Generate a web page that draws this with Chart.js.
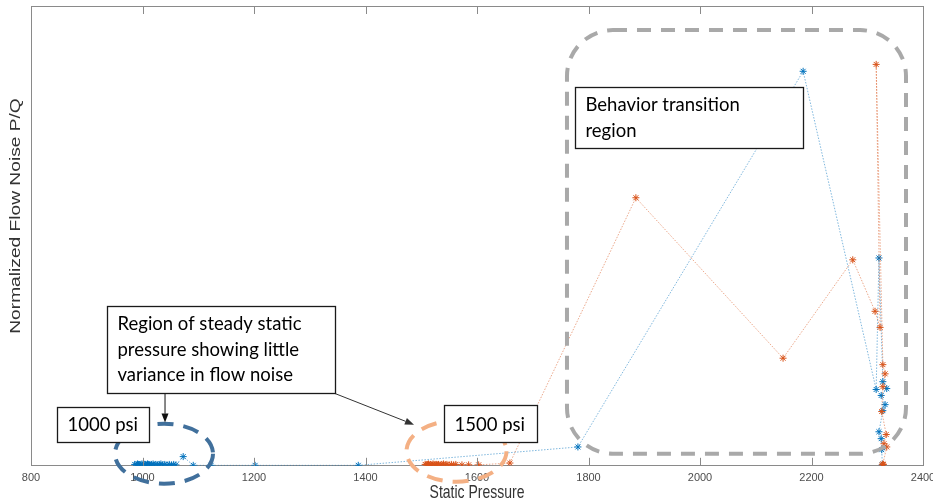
<!DOCTYPE html>
<html>
<head>
<meta charset="utf-8">
<title>Flow noise vs static pressure</title>
<script src="https://cdn.jsdelivr.net/npm/chart.js@4.4.0/dist/chart.umd.min.js"></script>
<style>
  html, body { margin: 0; padding: 0; background: #fff; }
  #wrap { width: 933px; height: 504px; }
</style>
</head>
<body>
<div id="wrap"><canvas id="noiseChart" width="933" height="504"></canvas></div>
<script>
// x axis ticks (psi)
const pressureTicks = [800, 1000, 1200, 1400, 1600, 1800, 2000, 2200, 2400];

// run 1 (blue): static pressure and normalized P/Q, in recorded order
const bluePressure = [986, 989, 991, 993, 995, 997, 999, 1001, 1003, 1005, 1007, 1009, 1011, 1013,
  1016, 1019, 1021, 1024, 1027, 1030, 1033, 1036, 1040, 1044, 1048, 1052, 1056, 1060,
  1073, 1091, 1123, 1202, 1387, 1781, 2185, 2316, 2321, 2328, 2335, 2325, 2332, 2328,
  2321, 2325, 2326, 2327];
const blueNoise = [0.003, 0.002, 0.004, 0.003, 0.002, 0.003, 0.004, 0.002, 0.003, 0.003, 0.002, 0.004, 0.003, 0.002,
  0.003, 0.004, 0.002, 0.003, 0.002, 0.003, 0.004, 0.002, 0.003, 0.002, 0.003, 0.002, 0.003, 0.002,
  0.020, 0.001, 0.001, 0.001, 0.001, 0.041, 0.858, 0.166, 0.452, 0.183, 0.168, 0.153, 0.133, 0.120,
  0.074, 0.059, 0.035, 0.002];

// run 2 (orange)
const orangePressure = [1507, 1509, 1511, 1513, 1515, 1517, 1519, 1521, 1523, 1525, 1527, 1529, 1531,
  1534, 1537, 1540, 1543, 1546, 1550, 1554, 1558, 1562, 1573, 1585, 1603, 1659,
  1885, 2149, 2274, 2314, 2323, 2316, 2328, 2332, 2328, 2326, 2334, 2330, 2335, 2328, 2327, 2329];
const orangeNoise = [0.003, 0.002, 0.003, 0.004, 0.002, 0.003, 0.002, 0.004, 0.003, 0.002, 0.003, 0.002, 0.003,
  0.002, 0.003, 0.004, 0.002, 0.003, 0.002, 0.003, 0.002, 0.003, 0.002, 0.002, 0.002, 0.006,
  0.583, 0.234, 0.448, 0.336, 0.301, 0.873, 0.220, 0.200, 0.172, 0.118, 0.068, 0.048, 0.041, 0.004, 0.002, 0.003];

const toPoints = (xs, ys) => xs.map((x, i) => ({x: x, y: ys[i]}));

// text callouts: top-left corner in data units, size in px
const callouts = [
  {lines: ['1000 psi'], x: 846.6, y: 0.1288, w: 92, h: 35, first: 18},
  {lines: ['Region of steady static', 'pressure showing little', 'variance in flow noise'], x: 936.3, y: 0.3472, w: 228, h: 87, first: 18},
  {lines: ['1500 psi'], x: 1540.8, y: 0.1332, w: 93, h: 37, first: 20},
  {lines: ['Behavior transition', 'region'], x: 1775.8, y: 0.8231, w: 228, h: 61, first: 18}
];

const frameColor = '#8a8a8a';

const drawArrow = (ctx, x1, y1, x2, y2, color) => {
  const ang = Math.atan2(y2 - y1, x2 - x1);
  const len = 9, half = 3.5;
  ctx.strokeStyle = color;
  ctx.fillStyle = color;
  ctx.lineWidth = 1;
  ctx.beginPath();
  ctx.moveTo(x1, y1);
  ctx.lineTo(x2 - Math.cos(ang) * len, y2 - Math.sin(ang) * len);
  ctx.stroke();
  ctx.beginPath();
  ctx.moveTo(x2, y2);
  ctx.lineTo(x2 - Math.cos(ang) * len - Math.sin(ang) * half, y2 - Math.sin(ang) * len + Math.cos(ang) * half);
  ctx.lineTo(x2 - Math.cos(ang) * len + Math.sin(ang) * half, y2 - Math.sin(ang) * len - Math.cos(ang) * half);
  ctx.closePath();
  ctx.fill();
};

const roundBox = (ctx, l, t, r, b, rad) => {
  ctx.beginPath();
  ctx.moveTo(l + rad, t);
  ctx.lineTo(r - rad, t);
  ctx.arc(r - rad, t + rad, rad, -Math.PI / 2, 0);
  ctx.lineTo(r, b - rad);
  ctx.arc(r - rad, b - rad, rad, 0, Math.PI / 2);
  ctx.lineTo(l + rad, b);
  ctx.arc(l + rad, b - rad, rad, Math.PI / 2, Math.PI);
  ctx.lineTo(l, t + rad);
  ctx.arc(l + rad, t + rad, rad, Math.PI, Math.PI * 1.5);
  ctx.closePath();
};

const overlay = {
  id: 'overlay',
  afterDatasetsDraw(chart) {
    const {ctx, chartArea: a, scales: {x, y}} = chart;
    ctx.save();

    // top/right frame and inward tick marks
    ctx.strokeStyle = frameColor;
    ctx.lineWidth = 1;
    ctx.beginPath();
    ctx.moveTo(a.left, a.top + 0.5);
    ctx.lineTo(a.right + 0.5, a.top + 0.5);
    ctx.lineTo(a.right + 0.5, a.bottom);
    pressureTicks.forEach(v => {
      const px = Math.round(x.getPixelForValue(v)) + 0.5;
      ctx.moveTo(px, a.bottom);
      ctx.lineTo(px, a.bottom - 8);
      ctx.moveTo(px, a.top);
      ctx.lineTo(px, a.top + 8);
    });
    ctx.stroke();

    // transition region
    ctx.setLineDash([14, 10]);
    ctx.lineWidth = 4;
    ctx.strokeStyle = '#a9a9a9';
    roundBox(ctx, x.getPixelForValue(1761.4), y.getPixelForValue(0.9476),
      x.getPixelForValue(2369.5), y.getPixelForValue(0.0262), 46);
    ctx.stroke();

    // 1000 / 1500 psi rings
    ctx.setLineDash([16, 10]);
    ctx.strokeStyle = '#41709c';
    ctx.beginPath();
    ctx.ellipse(x.getPixelForValue(1038.6), y.getPixelForValue(0.0262), 49, 30, 0, 0, Math.PI * 2);
    ctx.stroke();
    ctx.strokeStyle = '#f4b084';
    ctx.beginPath();
    ctx.ellipse(x.getPixelForValue(1563.2), y.getPixelForValue(0.0317), 50, 30.5, 0, 0, Math.PI * 2);
    ctx.stroke();
    ctx.setLineDash([]);

    // arrows from the steady-pressure note
    drawArrow(ctx, x.getPixelForValue(1040.4), y.getPixelForValue(0.1572),
      x.getPixelForValue(1040.4), y.getPixelForValue(0.0939), '#111');
    drawArrow(ctx, x.getPixelForValue(1345.3), y.getPixelForValue(0.1572),
      x.getPixelForValue(1487.0), y.getPixelForValue(0.0895), '#333');

    // callout boxes
    ctx.font = '18.5px Lato';
    ctx.textBaseline = 'middle';
    ctx.textAlign = 'left';
    callouts.forEach(c => {
      const l = Math.round(x.getPixelForValue(c.x)) + 0.5;
      const t = Math.round(y.getPixelForValue(c.y)) + 0.5;
      ctx.fillStyle = '#fff';
      ctx.fillRect(l, t, c.w, c.h);
      ctx.strokeStyle = '#1a1a1a';
      ctx.lineWidth = 1.3;
      ctx.strokeRect(l, t, c.w, c.h);
      ctx.fillStyle = '#000';
      c.lines.forEach((s, i) => ctx.fillText(s, l + 10, t + c.first + i * 25.5));
    });
    ctx.restore();
  },
  afterDraw(chart) {
    const {ctx, chartArea: a} = chart;
    ctx.save();
    ctx.fillStyle = '#333';
    ctx.font = '14px "Liberation Sans"';
    ctx.textAlign = 'center';
    ctx.textBaseline = 'middle';
    // axis titles, stretched vertically like the exported figure
    ctx.save();
    ctx.translate((a.left + a.right) / 2, 493);
    ctx.scale(1, 1.3);
    ctx.fillText('Static Pressure', 0, 0);
    ctx.restore();
    ctx.save();
    ctx.translate(16, 216);
    ctx.rotate(-Math.PI / 2);
    ctx.scale(1.37, 1);
    ctx.fillText('Normalized Flow Noise P/Q', 0, 0);
    ctx.restore();
    ctx.restore();
  }
};

const chart = new Chart('noiseChart', {
  type: 'scatter',
  data: {
    datasets: [
      {
        label: 'Run 2',
        data: toPoints(orangePressure, orangeNoise),
        showLine: true,
        borderColor: 'rgba(217,83,25,0.5)',
        borderWidth: 1,
        borderDash: [1.5, 1.5],
        pointStyle: 'star',
        pointRadius: 3.5,
        pointBorderWidth: 1,
        pointBorderColor: '#d95319',
        pointBackgroundColor: '#d95319'
      },
      {
        label: 'Run 1',
        data: toPoints(bluePressure, blueNoise),
        showLine: true,
        borderColor: 'rgba(0,114,189,0.5)',
        borderWidth: 1,
        borderDash: [1.5, 1.5],
        pointStyle: 'star',
        pointRadius: 3.5,
        pointBorderWidth: 1,
        pointBorderColor: '#0072bd',
        pointBackgroundColor: '#0072bd'
      }
    ]
  },
  options: {
    responsive: false,
    animation: false,
    layout: {padding: {left: 31, right: 10, top: 6, bottom: 13}},
    plugins: {legend: {display: false}, tooltip: {enabled: false}},
    scales: {
      x: {
        type: 'linear',
        min: 800,
        max: 2400,
        afterBuildTicks: axis => { axis.ticks = pressureTicks.map(v => ({value: v})); },
        // let the last label run past the frame instead of shrinking the plot
        afterFit: axis => { axis.paddingRight = 0; axis.paddingLeft = 0; },
        ticks: {
          padding: 6,
          color: '#4d4d4d',
          font: {family: 'Liberation Sans', size: 11},
          maxRotation: 0,
          callback: v => String(v)
        },
        grid: {display: false, drawTicks: false},
        border: {color: frameColor}
      },
      y: {
        min: 0,
        max: 1,
        ticks: {display: false},
        grid: {display: false, drawTicks: false},
        border: {color: frameColor}
      }
    }
  },
  plugins: [overlay]
});
</script>
</body>
</html>
